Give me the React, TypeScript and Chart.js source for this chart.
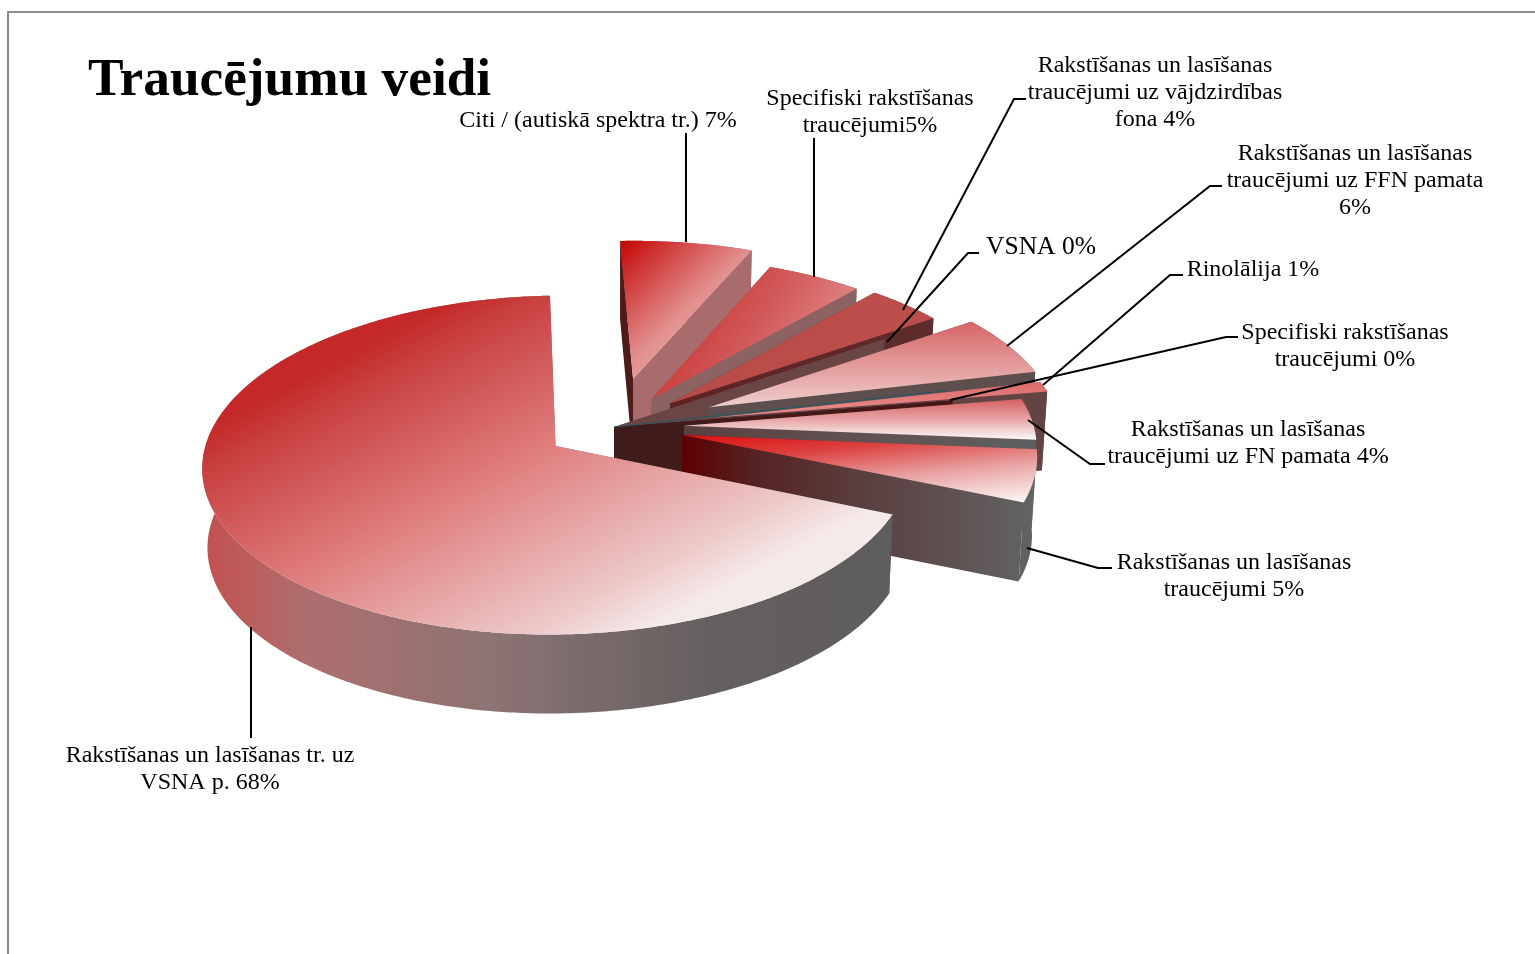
import React, { useEffect, useRef } from "react";
import { Chart, registerables } from "chart.js";

Chart.register(...registerables);

const CATEGORIES = [
  "Citi / (autiskā spektra tr.)",
  "Specifiski rakstīšanas traucējumi",
  "Rakstīšanas un lasīšanas traucējumi uz vājdzirdības fona",
  "VSNA",
  "Rakstīšanas un lasīšanas traucējumi uz FFN pamata",
  "Rinolālija",
  "Specifiski rakstīšanas traucējumi",
  "Rakstīšanas un lasīšanas traucējumi uz FN pamata",
  "Rakstīšanas un lasīšanas traucējumi",
  "Rakstīšanas un lasīšanas tr. uz VSNA p.",
];
const VALUES = [7, 5, 4, 0, 6, 1, 0, 4, 5, 68];
const EXPLODE = [108, 72, 76, 0, 105, 100, 0, 70, 70, 70];
const TITLE = "Traucējumu veidi";
const LABEL_LINES = [
  ["Citi / (autiskā spektra tr.) 7%"],
  ["Specifiski rakstīšanas", "traucējumi5%"],
  ["Rakstīšanas un lasīšanas", "traucējumi uz vājdzirdības", "fona 4%"],
  ["VSNA 0%"],
  ["Rakstīšanas un lasīšanas", "traucējumi uz FFN pamata", "6%"],
  ["Rinolālija 1%"],
  ["Specifiski rakstīšanas", "traucējumi 0%"],
  ["Rakstīšanas un lasīšanas", "traucējumi uz FN pamata 4%"],
  ["Rakstīšanas un lasīšanas", "traucējumi 5%"],
  ["Rakstīšanas un lasīšanas tr. uz", "VSNA p. 68%"],
];

// layout of the labels: centre x, first line middle y, font size, leader polyline
const LABEL_LAYOUT = [
  { x: 598, y: 121, size: 24, leader: [[686, 133], [686, 242]] },
  { x: 870, y: 99, size: 24, leader: [[814, 138], [814, 277]] },
  { x: 1155, y: 66, size: 24, leader: [[1026, 99], [1014, 99], [903, 310]] },
  { x: 1041, y: 247, size: 25.5, leader: [[979, 253], [968, 253], [887, 342]] },
  { x: 1355, y: 154, size: 24, leader: [[1222, 186], [1210, 186], [1007, 346]] },
  { x: 1253, y: 270, size: 24, leader: [[1183, 275], [1170, 275], [1043, 385]] },
  { x: 1345, y: 333, size: 24, leader: [[1238, 337], [1226, 337], [950, 400]] },
  { x: 1248, y: 430, size: 24, leader: [[1105, 464], [1090, 464], [1028, 420]] },
  { x: 1234, y: 563, size: 24, leader: [[1112, 568], [1098, 568], [1027, 548]] },
  { x: 210, y: 756, size: 24, leader: [[251, 738], [251, 627]] },
];

type Stops = [number, string][];
// top-face gradient: vector in fractions of the slice's bounding box, then stops
const TOP_STYLE: { v: number[]; s: Stops }[] = [
  { v: [0, 0, 1, 1], s: [[0, "#C40505"], [0.5, "#E2908F"], [1, "#F0C0C0"]] },
  { v: [0, 0, 1, 1], s: [[0, "#C42020"], [0.5, "#D25A5A"], [1, "#EAA5A5"]] },
  { v: [0, 0, 1, 1], s: [[0, "#B84A46"], [1, "#BD504C"]] },
  { v: [0, 0, 1, 1], s: [[0, "#6A4545"], [1, "#6A4545"]] },
  { v: [0, 0, 0, 1], s: [[0, "#D66565"], [1, "#F0CECE"]] },
  { v: [0, 0, 0, 1], s: [[0, "#DC6A6A"], [1, "#EB9090"]] },
  { v: [0, 0, 1, 1], s: [[0, "#3F1C1C"], [1, "#3F1C1C"]] },
  { v: [0, 0, 0, 1], s: [[0, "#D66060"], [0.5, "#E8A5A5"], [1, "#FAFAFC"]] },
  { v: [0, 0, 0.033, 1.58], s: [[0, "#DD0E0E"], [0.28, "#DC4040"], [0.6, "#E8A0A0"], [1, "#FFFFFF"]] },
  { v: [0.37, 0, 0.63, 1], s: [[0, "#C42828"], [0.1, "#C84040"], [0.47, "#E08080"], [0.86, "#EDC8C8"], [1, "#F5EAEA"]] },
];
// wall gradient runs left to right across the slice
const WALL_STOPS: Stops[] = [
  [[0, "#A86C6C"], [1, "#A86C6C"]],
  [[0, "#8C6262"], [1, "#8C6262"]],
  [[0, "#5E2222"], [1, "#5E2C2C"]],
  [[0, "#6A4545"], [1, "#6A4545"]],
  [[0, "#5E4F4F"], [1, "#5E4F4F"]],
  [[0, "#624444"], [1, "#624444"]],
  [[0, "#3F1C1C"], [1, "#4A1616"]],
  [[0, "#5A4040"], [0.5, "#605252"], [1, "#5E6060"]],
  [[0, "#5C0000"], [0.2, "#552222"], [0.5, "#5A3E3E"], [1, "#626464"]],
  [[0, "#C45050"], [0.15, "#AE6E6E"], [0.42, "#8B7474"], [0.72, "#666060"], [1, "#5E5C5C"]],
];
const START_WALL: (string | null)[] = ["#4E1A1A", null, null, null, null, null, null, null, null, null];

const A = 0.47, B = 0.00032, VX = 500, DEPTH = 79, ZX = 620, ZK = 0.0125, SHEAR = 0.019;

function project(x: number, y: number, z: number, cx: number, cy: number) {
  const v = y - cy;
  const w = 1 - B * v;
  let X = VX + (x - VX) / w;
  const Y = cy + (A * v) / w + z * DEPTH - SHEAR * (X - cx);
  X += (ZX - X) * ZK * z;
  return [X, Y];
}

function poly(ctx: CanvasRenderingContext2D, pts: number[][]) {
  ctx.beginPath();
  pts.forEach((p, i) => (i ? ctx.lineTo(p[0], p[1]) : ctx.moveTo(p[0], p[1])));
  ctx.closePath();
}

const pie3d = {
  id: "pie3d",
  beforeDraw(chart: any) {
    const ctx = chart.ctx as CanvasRenderingContext2D;
    ctx.save();
    ctx.fillStyle = "#fff";
    ctx.fillRect(0, 0, chart.width, chart.height);
    ctx.strokeStyle = "#8C8C8C";
    ctx.lineWidth = 2;
    ctx.beginPath();
    ctx.moveTo(8, 954);
    ctx.lineTo(8, 12);
    ctx.lineTo(1535, 12);
    ctx.stroke();
    ctx.restore();
  },
  beforeDatasetDraw(chart: any) {
    const ctx = chart.ctx as CanvasRenderingContext2D;
    const arcs = chart.getDatasetMeta(0).data;
    arcs.forEach((arc: any, i: number) => {
      const { x, y, startAngle: a0, endAngle: a1, outerRadius: R } = arc;
      const off = arc.options.offset || 0;
      const mid = (a0 + a1) / 2;
      const ax = x + Math.cos(mid) * off;
      const ay = y + Math.sin(mid) * off;
      const at = (t: number, r: number, z: number) =>
        project(ax + Math.cos(t) * r, ay + Math.sin(t) * r, z, x, y);
      const n = Math.max(2, Math.ceil((a1 - a0) / 0.01));
      const rim = (z: number) => {
        const p: number[][] = [];
        for (let k = 0; k <= n; k++) p.push(at(a0 + ((a1 - a0) * k) / n, R, z));
        return p;
      };
      const top = [at(a0, 0, 0), ...rim(0)];
      const xs = [...top.map((p) => p[0]), ...rim(1).map((p) => p[0])];
      const ys = top.map((p) => p[1]);
      const minX = Math.min(...xs), maxX = Math.max(...xs);
      const minY = Math.min(...ys), maxY = Math.max(...ys);
      const wall = ctx.createLinearGradient(minX, 0, Math.max(maxX, minX + 1), 0);
      WALL_STOPS[i].forEach(([t, c]) => wall.addColorStop(t, c));

      const seg = (t: number) => [at(t, 0, 0), at(t, R, 0), at(t, R, 1), at(t, 0, 1)];
      if (!START_WALL[i]) {
        poly(ctx, seg(a0));
        ctx.fillStyle = wall;
        ctx.fill();
      }
      poly(ctx, seg(a1));
      ctx.fillStyle = wall;
      ctx.fill();
      if (a1 > a0) {
        poly(ctx, [...rim(0), ...rim(1).reverse()]);
        ctx.fillStyle = wall;
        ctx.fill();
      }
      if (START_WALL[i]) {
        poly(ctx, seg(a0));
        ctx.fillStyle = START_WALL[i]!;
        ctx.fill();
      }
      if (a1 > a0) {
        const st = TOP_STYLE[i];
        const w = maxX - minX, h = Math.max(maxY - minY, 1);
        const g = ctx.createLinearGradient(
          minX + st.v[0] * w, minY + st.v[1] * h, minX + st.v[2] * w, minY + st.v[3] * h
        );
        st.s.forEach(([t, c]) => g.addColorStop(t, c));
        poly(ctx, top);
        ctx.fillStyle = g;
        ctx.fill();
      }
      if (i === 6) {
        // hairline along the upper edge of the zero-value slice
        const prev = arcs[5];
        const p0 = project(x, y, 0, x, y);
        const p1 = project(x + Math.cos(prev.startAngle) * R, y + Math.sin(prev.startAngle) * R, 0, x, y);
        ctx.beginPath();
        ctx.moveTo(p0[0], p0[1]);
        ctx.lineTo(p1[0], p1[1]);
        ctx.strokeStyle = "#1F5A66";
        ctx.lineWidth = 1;
        ctx.stroke();
      }
    });
    return false;
  },
  afterDraw(chart: any) {
    const ctx = chart.ctx as CanvasRenderingContext2D;
    ctx.save();
    ctx.fillStyle = "#000";
    ctx.textBaseline = "middle";
    ctx.textAlign = "left";
    ctx.font = 'bold 53.3px "Liberation Serif"';
    ctx.fillText(TITLE, 88, 81);
    ctx.textAlign = "center";
    LABEL_LINES.forEach((lines, i) => {
      const l = LABEL_LAYOUT[i];
      ctx.font = `${l.size}px "Liberation Serif"`;
      lines.forEach((t, k) => ctx.fillText(t, l.x, l.y + k * 27));
      ctx.beginPath();
      l.leader.forEach((p, k) => (k ? ctx.lineTo(p[0], p[1]) : ctx.moveTo(p[0], p[1])));
      ctx.strokeStyle = "#000";
      ctx.lineWidth = 2;
      ctx.stroke();
    });
    ctx.restore();
  },
};

export default function App() {
  const ref = useRef<HTMLCanvasElement>(null);
  useEffect(() => {
    const chart = new Chart(ref.current!, {
      type: "pie",
      data: {
        labels: CATEGORIES,
        datasets: [
          {
            data: VALUES,
            offset: EXPLODE,
            radius: 347.5,
            borderWidth: 0,
            backgroundColor: TOP_STYLE.map((s) => s.s[0][1]),
          } as any,
        ],
      },
      options: {
        responsive: false,
        animation: false,
        events: [],
        layout: { padding: { right: 307, bottom: 100 } },
        plugins: { legend: { display: false }, tooltip: { enabled: false }, title: { display: false } },
      },
      plugins: [pie3d],
    } as any);
    return () => chart.destroy();
  }, []);
  return (
    <div style={{ position: "absolute", left: 0, top: 0, width: 1535, height: 954, overflow: "hidden", background: "#fff" }}>
      <canvas ref={ref} width={1535} height={954} style={{ display: "block" }} />
    </div>
  );
}
